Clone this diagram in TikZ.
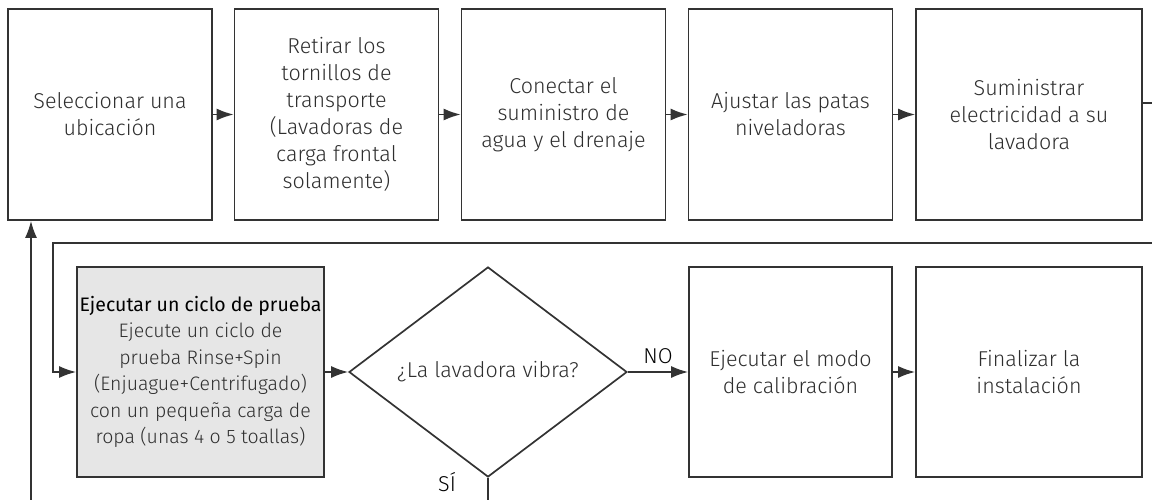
\documentclass[tikz,border=0pt]{standalone}
\usepackage{fontspec}
\setmainfont{Fira Sans}[UprightFont=* Light, BoldFont=*]
\usetikzlibrary{arrows.meta, shapes.geometric, positioning}
\definecolor{trazo}{HTML}{333333}
\definecolor{texto}{HTML}{2E2E2E}
\definecolor{gris}{HTML}{E6E6E6}
\begin{document}
\begin{tikzpicture}[x=1pt, y=-1pt, >={Latex[length=17pt,width=12pt]},
    line width=1.7pt, draw=trazo,
    paso/.style={draw=trazo, rectangle, minimum width=204pt, minimum height=211pt, align=center,
      text=texto, inner sep=0pt, font=\fontsize{21.5}{27}\selectfont},
    etiq/.style={font=\fontsize{21.5}{26}\selectfont, text=black, inner sep=2pt}]
\useasboundingbox (0,0) rectangle (1152,500);
% Fila superior
\node[paso] (ubic) at (110,114.5) {Seleccionar una\\ubicación};
\node[paso] (torn) at (336.5,114.5) {Retirar los\\tornillos de\\transporte\\(Lavadoras de\\carga frontal\\solamente)};
\node[paso] (agua) at (563.5,114.5) {Conectar el\\suministro de\\agua y el drenaje};
\node[paso] (patas) at (790.5,114.5) {Ajustar las patas\\niveladoras};
\node[paso, minimum width=226pt] (elec) at (1029,114.5) {Suministrar\\electricidad a su\\lavadora};
\draw[->] (ubic) -- (torn);
\draw[->] (torn) -- (agua);
\draw[->] (agua) -- (patas);
\draw[->] (patas) -- (elec);
% Salida a la derecha y retorno
\coordinate (salDer) at (1152,103);
\coordinate (entDer) at (1152,243);
\coordinate (entIzq) at (53,243);
\draw (salDer -| elec.east) -- (salDer);
% Fila inferior
\node[paso, fill=gris, minimum width=247pt, minimum height=210pt, font=\fontsize{19.5}{26.5}\selectfont] (prueba) at (200.5,372)
  {{\bfseries\color{black}Ejecutar un ciclo de prueba}\\Ejecute un ciclo de\\prueba Rinse+Spin\\(Enjuague+Centrifugado)\\con un pequeña carga de\\ropa (unas 4 o 5 toallas)};
\draw[->] (entDer) -- (entIzq) |- (prueba.west);
\node[draw=trazo, diamond, aspect=1.32, minimum width=278pt, minimum height=210pt, inner sep=0pt,
  text=texto, font=\fontsize{21.5}{26}\selectfont] (vibra) at (488,372) {¿La lavadora vibra?};
\node[paso, minimum width=203pt, minimum height=210pt] (calib) at (790.5,372) {Ejecutar el modo\\de calibración};
\node[paso, minimum width=226pt, minimum height=210pt] (fin) at (1029,372) {Finalizar la\\instalación};
\draw[->] (prueba) -- (vibra);
\draw[->] (vibra.east) -- node[etiq, above=5pt] {NO} (calib);
\draw[->] (calib) -- (fin);
% Rama SI y retorno al inicio
\coordinate (abSi) at (488,500);
\coordinate (abIzq) at (31,500);
\draw (vibra.south) -- (abSi);
\node[etiq] (si) at (447,482) {SÍ};
\draw[->] (abIzq) -- (abIzq |- ubic.south);
\end{tikzpicture}
\end{document}
